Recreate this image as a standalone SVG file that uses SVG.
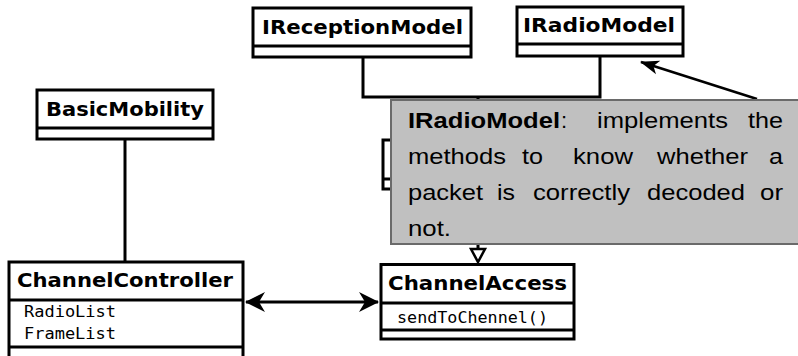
<svg xmlns="http://www.w3.org/2000/svg" width="798" height="356" viewBox="0 0 798 356">
<style>
.box{fill:#fff;stroke:#000;stroke-width:3}
.sep{stroke:#000;stroke-width:3;fill:none}
.cn{font-family:"DejaVu Sans",sans-serif;font-weight:bold;font-size:20px;fill:#000}
.mono{font-family:"DejaVu Sans Mono",monospace;font-size:15.5px;fill:#000}
.edge{stroke:#000;stroke-width:3;fill:none}
.nt{font-family:"Liberation Sans",Arial,sans-serif;font-size:22px;fill:#000}
.ntb{font-weight:bold}
</style>
<defs>
<marker id="barb" markerUnits="userSpaceOnUse" markerWidth="24" markerHeight="24" viewBox="-22 -12 24 24" refX="0" refY="0" orient="auto-start-reverse">
<path d="M1,0 L-19,-10 L-13,0 L-19,10 Z" fill="#000"/>
</marker>
<marker id="barbs" markerUnits="userSpaceOnUse" markerWidth="24" markerHeight="24" viewBox="-22 -12 24 24" refX="0" refY="0" orient="auto">
<path d="M1,0 L-18,-7 L-13,0 L-18,7 Z" fill="#000"/>
</marker>
</defs>

<g id="connectors">
<path class="edge" d="M363,57 V97 H600 V56"/>
<path class="edge" d="M478,97 V249"/>
<path d="M471,249 H485 L478,262 Z" fill="#fff" stroke="#000" stroke-width="2.5" stroke-linejoin="miter"/>
<path class="edge" d="M125,139 V262"/>
<path class="edge" d="M246,302 H378" marker-start="url(#barb)" marker-end="url(#barb)"/>
</g>

<g id="IReceptionModel">
<rect class="box" x="253" y="8" width="218" height="49"/>
<line class="sep" x1="253" y1="46" x2="471" y2="46"/>
<text class="cn" x="262" y="34" textLength="201" lengthAdjust="spacingAndGlyphs">IReceptionModel</text>
</g>

<g id="IRadioModel">
<rect class="box" x="517" y="7" width="166" height="49"/>
<line class="sep" x1="517" y1="44" x2="683" y2="44"/>
<text class="cn" x="523" y="32" textLength="152" lengthAdjust="spacingAndGlyphs">IRadioModel</text>
</g>

<g id="BasicMobility">
<rect class="box" x="37" y="90" width="176" height="49"/>
<line class="sep" x1="37" y1="128" x2="213" y2="128"/>
<text class="cn" x="46" y="116" textLength="158" lengthAdjust="spacingAndGlyphs">BasicMobility</text>
</g>

<g id="ChannelController">
<rect class="box" x="9" y="262" width="234" height="110"/>
<line class="sep" x1="9" y1="300" x2="243" y2="300"/>
<line class="sep" x1="9" y1="347" x2="243" y2="347"/>
<text class="cn" x="17" y="287" textLength="216" lengthAdjust="spacingAndGlyphs">ChannelController</text>
<text class="mono" x="24" y="317" textLength="92" lengthAdjust="spacingAndGlyphs">RadioList</text>
<text class="mono" x="24" y="339" textLength="92" lengthAdjust="spacingAndGlyphs">FrameList</text>
</g>

<g id="ChannelAccess">
<rect class="box" x="381" y="264.5" width="193" height="74.5"/>
<line class="sep" x1="381" y1="303" x2="574" y2="303"/>
<line class="sep" x1="381" y1="330" x2="574" y2="330"/>
<text class="cn" x="388" y="290" textLength="179" lengthAdjust="spacingAndGlyphs">ChannelAccess</text>
<text class="mono" x="397" y="323" textLength="151" lengthAdjust="spacingAndGlyphs">sendToChennel()</text>
</g>

<g id="HiddenClass">
<rect class="box" x="383" y="140" width="120" height="49"/>
<line class="sep" x1="383" y1="179" x2="503" y2="179"/>
</g>

<g id="note-link">
<line x1="757" y1="99" x2="641" y2="62" stroke="#000" stroke-width="2.5" marker-end="url(#barbs)"/>
</g>

<g id="Note">
<rect x="391" y="100" width="412" height="144" fill="#c0c0c0" stroke="#6a6a6a" stroke-width="2"/>
<text class="nt ntb" x="408" y="128" textLength="152" lengthAdjust="spacingAndGlyphs">IRadioModel</text>
<text class="nt" x="561" y="128">:</text>
<text class="nt" x="597" y="128" textLength="131" lengthAdjust="spacingAndGlyphs">implements</text>
<text class="nt" x="748" y="128" textLength="35" lengthAdjust="spacingAndGlyphs">the</text>
<text class="nt" x="408" y="164" textLength="98" lengthAdjust="spacingAndGlyphs">methods</text>
<text class="nt" x="522" y="164" textLength="21" lengthAdjust="spacingAndGlyphs">to</text>
<text class="nt" x="573" y="164" textLength="60" lengthAdjust="spacingAndGlyphs">know</text>
<text class="nt" x="657" y="164" textLength="91" lengthAdjust="spacingAndGlyphs">whether</text>
<text class="nt" x="769" y="164" textLength="14" lengthAdjust="spacingAndGlyphs">a</text>
<text class="nt" x="408" y="200" textLength="75" lengthAdjust="spacingAndGlyphs">packet</text>
<text class="nt" x="497" y="200" textLength="18" lengthAdjust="spacingAndGlyphs">is</text>
<text class="nt" x="533" y="200" textLength="97" lengthAdjust="spacingAndGlyphs">correctly</text>
<text class="nt" x="647" y="200" textLength="98" lengthAdjust="spacingAndGlyphs">decoded</text>
<text class="nt" x="760" y="200" textLength="23" lengthAdjust="spacingAndGlyphs">or</text>
<text class="nt" x="408" y="236" textLength="43" lengthAdjust="spacingAndGlyphs">not.</text>
</g>
</svg>
